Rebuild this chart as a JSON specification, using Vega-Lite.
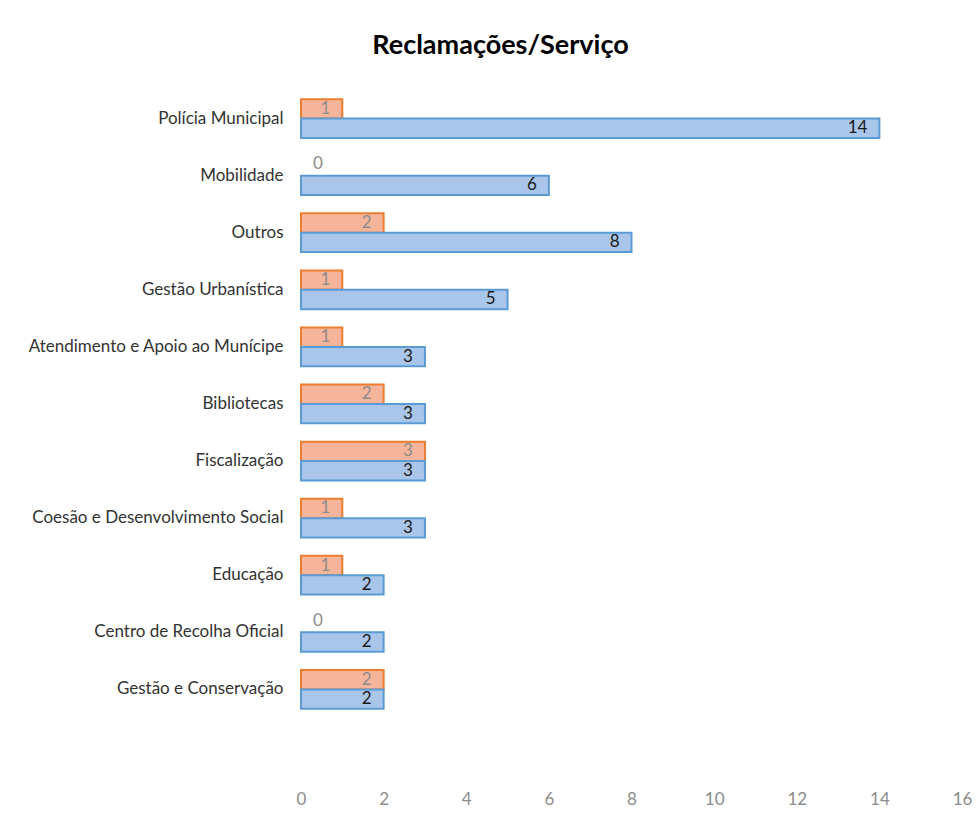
{
  "$schema": "https://vega.github.io/schema/vega-lite/v6.json",
  "autosize": "none",
  "width": 661,
  "height": 685,
  "padding": {"left": 301, "top": 90, "right": 18, "bottom": 45},
  "background": "white",
  "title": {
    "text": "Reclamações/Serviço",
    "font": "Lato",
    "fontSize": 27,
    "fontWeight": "bold",
    "color": "#000000",
    "anchor": "middle",
    "dx": -131,
    "offset": 30
  },
  "data": {
    "values": [
      {"servico": "Polícia Municipal", "serie": "A", "reclamacoes": 1},
      {"servico": "Polícia Municipal", "serie": "B", "reclamacoes": 14},
      {"servico": "Mobilidade", "serie": "A", "reclamacoes": 0},
      {"servico": "Mobilidade", "serie": "B", "reclamacoes": 6},
      {"servico": "Outros", "serie": "A", "reclamacoes": 2},
      {"servico": "Outros", "serie": "B", "reclamacoes": 8},
      {"servico": "Gestão Urbanística", "serie": "A", "reclamacoes": 1},
      {"servico": "Gestão Urbanística", "serie": "B", "reclamacoes": 5},
      {"servico": "Atendimento e Apoio ao Munícipe", "serie": "A", "reclamacoes": 1},
      {"servico": "Atendimento e Apoio ao Munícipe", "serie": "B", "reclamacoes": 3},
      {"servico": "Bibliotecas", "serie": "A", "reclamacoes": 2},
      {"servico": "Bibliotecas", "serie": "B", "reclamacoes": 3},
      {"servico": "Fiscalização", "serie": "A", "reclamacoes": 3},
      {"servico": "Fiscalização", "serie": "B", "reclamacoes": 3},
      {"servico": "Coesão e Desenvolvimento Social", "serie": "A", "reclamacoes": 1},
      {"servico": "Coesão e Desenvolvimento Social", "serie": "B", "reclamacoes": 3},
      {"servico": "Educação", "serie": "A", "reclamacoes": 1},
      {"servico": "Educação", "serie": "B", "reclamacoes": 2},
      {"servico": "Centro de Recolha Oficial", "serie": "A", "reclamacoes": 0},
      {"servico": "Centro de Recolha Oficial", "serie": "B", "reclamacoes": 2},
      {"servico": "Gestão e Conservação", "serie": "A", "reclamacoes": 2},
      {"servico": "Gestão e Conservação", "serie": "B", "reclamacoes": 2}
    ]
  },
  "encoding": {
    "y": {
      "field": "servico",
      "type": "nominal",
      "scale": {
        "domain": ["Polícia Municipal", "Mobilidade", "Outros", "Gestão Urbanística", "Atendimento e Apoio ao Munícipe", "Bibliotecas", "Fiscalização", "Coesão e Desenvolvimento Social", "Educação", "Centro de Recolha Oficial", "Gestão e Conservação", " "],
        "paddingInner": 0.32,
        "paddingOuter": 0.16
      },
      "axis": {
        "title": null,
        "domain": false,
        "ticks": false,
        "labelPadding": 18,
        "labelFont": "Lato",
        "labelFontSize": 17,
        "labelColor": "#333333",
        "labelLimit": 400
      }
    },
    "yOffset": {
      "field": "serie",
      "type": "nominal",
      "scale": {"domain": ["A", "B"], "paddingInner": 0, "paddingOuter": 0}
    },
    "x": {
      "field": "reclamacoes",
      "type": "quantitative",
      "scale": {"domain": [0, 16], "nice": false},
      "axis": {
        "title": null,
        "values": [0, 2, 4, 6, 8, 10, 12, 14, 16],
        "grid": false,
        "domain": false,
        "ticks": false,
        "labelPadding": 16,
        "labelFont": "Lato",
        "labelFontSize": 17,
        "labelColor": "#8C8C8C",
        "labelFlush": false
      }
    }
  },
  "layer": [
    {
      "mark": {"type": "bar", "strokeWidth": 2},
      "encoding": {
        "fill": {
          "field": "serie",
          "type": "nominal",
          "scale": {"domain": ["A", "B"], "range": ["#F6B59A", "#A9C5E9"]},
          "legend": null
        },
        "stroke": {
          "field": "serie",
          "type": "nominal",
          "scale": {"domain": ["A", "B"], "range": ["#ED7D31", "#5B9BD5"]},
          "legend": null
        },
        "strokeOpacity": {"condition": {"test": "datum.reclamacoes == 0", "value": 0}, "value": 1}
      }
    },
    {
      "transform": [{"filter": "datum.reclamacoes > 0"}],
      "mark": {"type": "text", "align": "right", "baseline": "middle", "dx": -12, "font": "Lato", "fontSize": 17},
      "encoding": {
        "text": {"field": "reclamacoes", "type": "quantitative"},
        "color": {"condition": {"test": "datum.serie === 'A'", "value": "#8C8C8C"}, "value": "#1A1A1A"}
      }
    },
    {
      "transform": [{"filter": "datum.reclamacoes == 0"}],
      "mark": {"type": "text", "align": "left", "baseline": "middle", "dx": 12, "dy": -2, "font": "Lato", "fontSize": 17},
      "encoding": {
        "text": {"field": "reclamacoes", "type": "quantitative"},
        "color": {"condition": {"test": "datum.serie === 'A'", "value": "#8C8C8C"}, "value": "#1A1A1A"}
      }
    }
  ],
  "config": {"view": {"stroke": null}}
}
